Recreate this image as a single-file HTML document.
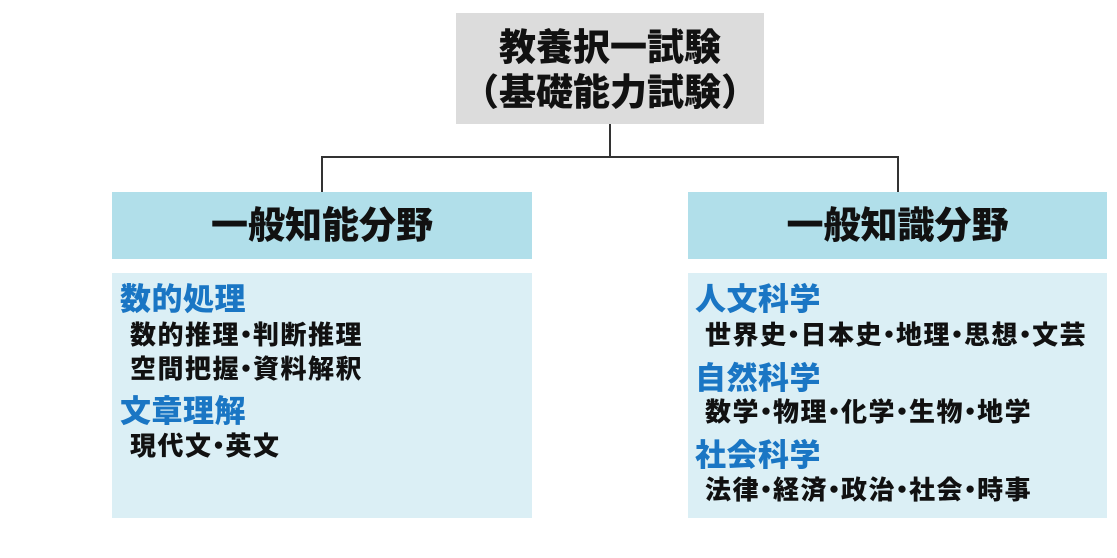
<!DOCTYPE html>
<html><head><meta charset="utf-8"><style>
body{margin:0;width:1117px;height:558px;background:#fff;position:relative;overflow:hidden;font-family:"Liberation Sans","Noto Sans CJK JP",sans-serif;font-weight:900}
.a{position:absolute}
.t{white-space:nowrap;line-height:1}
.h{color:#1a76c4;font-size:31px;letter-spacing:0.5px}
.s{color:#111;font-size:26px;letter-spacing:1.5px}
.s i{font-style:normal;display:inline-block;width:13px;text-align:center;overflow:visible}
.s i span{display:inline-block;margin:0 -7px}
</style></head><body>
<div class="a" style="left:456px;top:13px;width:308px;height:111px;background:#dcdcdc"></div>
<div class="a t" style="left:456px;width:308px;top:29px;text-align:center;font-size:37px;color:#111">教養択一試験</div>
<div class="a t" style="left:456px;width:308px;top:74px;text-align:center;font-size:37px;color:#111">（基礎能力試験）</div>
<div class="a" style="left:609px;top:124px;width:2px;height:34px;background:#333"></div>
<div class="a" style="left:321px;top:156px;width:578px;height:2px;background:#333"></div>
<div class="a" style="left:321px;top:156px;width:2px;height:36px;background:#333"></div>
<div class="a" style="left:897px;top:156px;width:2px;height:36px;background:#333"></div>
<div class="a" style="left:112px;top:192px;width:420px;height:67px;background:#b1dfea"></div>
<div class="a" style="left:688px;top:192px;width:419px;height:67px;background:#b1dfea"></div>
<div class="a t" style="left:112px;width:420px;top:207px;text-align:center;font-size:37px;color:#111">一般知能分野</div>
<div class="a t" style="left:688px;width:419px;top:207px;text-align:center;font-size:37px;color:#111">一般知識分野</div>
<div class="a" style="left:112px;top:273px;width:420px;height:245px;background:#dbeff5"></div>
<div class="a" style="left:688px;top:273px;width:419px;height:245px;background:#dbeff5"></div>
<div class="a t h" style="left:120px;top:284px">数的処理</div>
<div class="a t s" style="left:130px;top:322px">数的推理<i><span>・</span></i>判断推理</div>
<div class="a t s" style="left:130px;top:356px">空間把握<i><span>・</span></i>資料解釈</div>
<div class="a t h" style="left:120px;top:396px">文章理解</div>
<div class="a t s" style="left:130px;top:433px">現代文<i><span>・</span></i>英文</div>
<div class="a t h" style="left:695px;top:284px">人文科学</div>
<div class="a t s" style="left:705px;top:322px">世界史<i><span>・</span></i>日本史<i><span>・</span></i>地理<i><span>・</span></i>思想<i><span>・</span></i>文芸</div>
<div class="a t h" style="left:695px;top:363px">自然科学</div>
<div class="a t s" style="left:705px;top:399px">数学<i><span>・</span></i>物理<i><span>・</span></i>化学<i><span>・</span></i>生物<i><span>・</span></i>地学</div>
<div class="a t h" style="left:695px;top:440px">社会科学</div>
<div class="a t s" style="left:705px;top:477px">法律<i><span>・</span></i>経済<i><span>・</span></i>政治<i><span>・</span></i>社会<i><span>・</span></i>時事</div>
</body></html>
